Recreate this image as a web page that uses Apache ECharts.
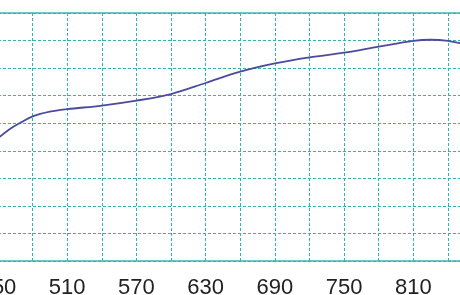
<!DOCTYPE html>
<html>
<head>
<meta charset="utf-8">
<script src="https://cdn.jsdelivr.net/npm/echarts@6/dist/echarts.min.js"></script>
<style>
html,body{margin:0;padding:0;background:#fff;}
#chart{width:460px;height:295px;}
</style>
</head>
<body>
<div id="chart"></div>
<script>
// Data
const wavelengths = [450, 460, 470, 480, 495, 510, 540, 570, 600, 630, 660, 690, 720, 750, 780, 810, 825, 840, 855];
const values      = [44.5, 47.8, 50.3, 52.5, 54.2, 55.1, 56.4, 58.2, 60.6, 64.6, 68.7, 71.7, 73.9, 75.6, 77.8, 79.9, 80.3, 79.9, 78.6];
const xMin = 450, xMax = 870, xStep = 30, xLabelStep = 60;
const yMin = 0, yMax = 90, yStep = 10;

const seriesData = wavelengths.map((w, i) => [w, values[i]]);

const chart = echarts.init(document.getElementById('chart'), null, {renderer: 'canvas'});
chart.setOption({
  animation: false,
  backgroundColor: '#ffffff',
  grid: {
    left: -2, right: -22.5, top: 13, bottom: 34,
    containLabel: false,
    outerBoundsMode: 'none',
    show: true, borderColor: '#6cc9c4', borderWidth: 2, backgroundColor: 'transparent'
  },
  xAxis: {
    type: 'value', min: xMin, max: xMax, interval: xStep,
    axisLine: {show: false},
    axisTick: {show: false},
    axisLabel: {
      show: true, margin: 16, color: '#222',
      fontFamily: 'Liberation Sans, Arial, sans-serif', fontSize: 22,
      formatter: v => ((v - xMin) % xLabelStep === 0 ? String(v) : ''),
      showMinLabel: true, showMaxLabel: true, hideOverlap: false
    },
    splitLine: {show: true, lineStyle: {color: '#2fb5ae', width: 1, type: [3, 2]}}
  },
  yAxis: {
    type: 'value', min: yMin, max: yMax, interval: yStep,
    axisLine: {show: false}, axisTick: {show: false}, axisLabel: {show: false},
    splitLine: {show: true, lineStyle: {color: '#2fb5ae', width: 1, type: [3, 2]}}
  },
  series: [{
    type: 'line',
    data: seriesData,
    smooth: 0.35,
    showSymbol: false,
    symbol: 'none',
    lineStyle: {color: '#4b4a9c', width: 1.8}
  }]
});
</script>
</body>
</html>
